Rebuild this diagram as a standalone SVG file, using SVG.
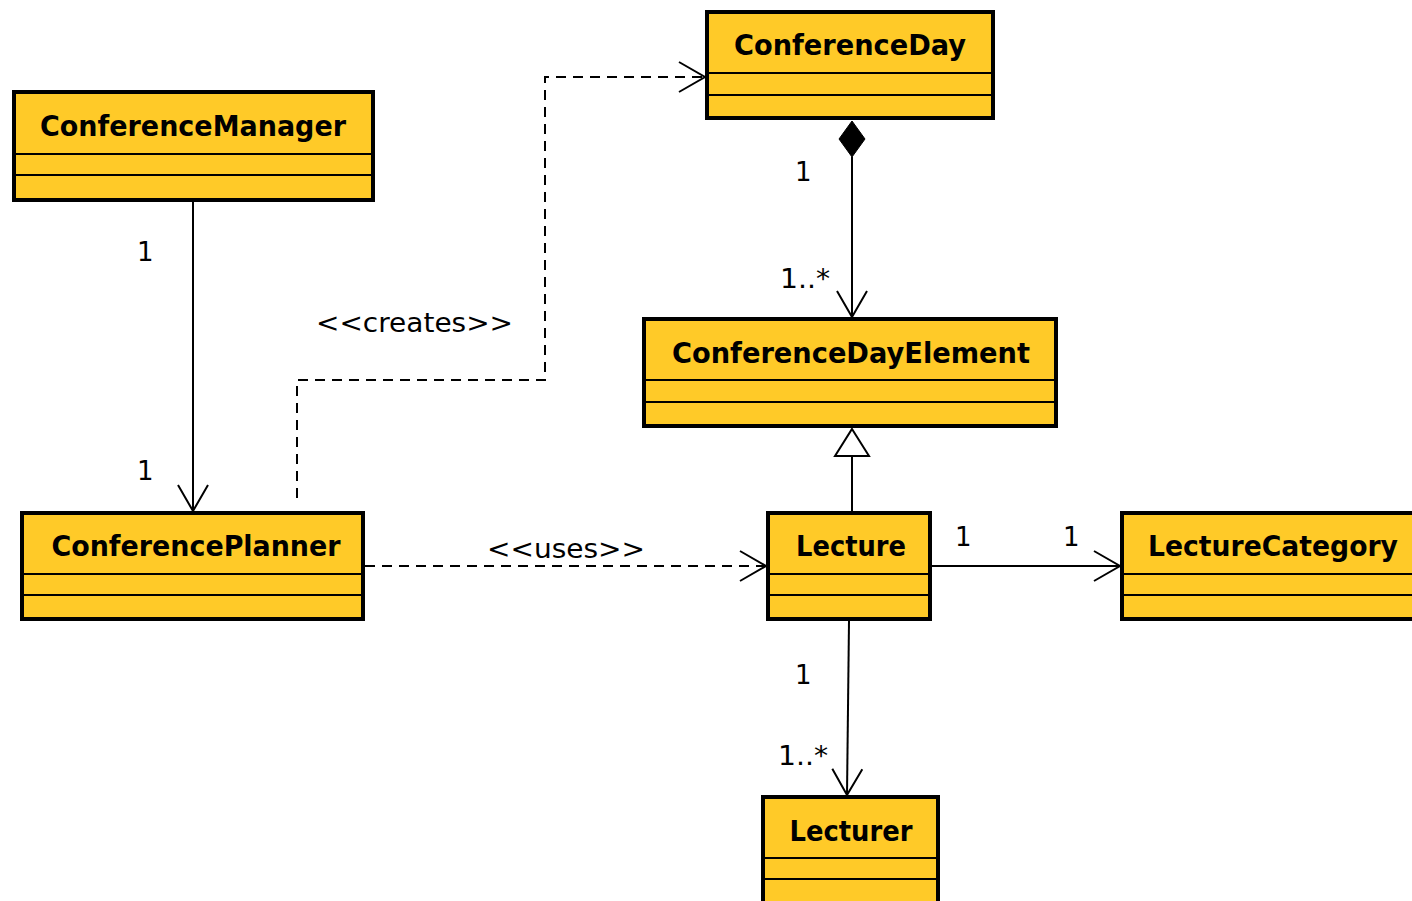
<svg xmlns="http://www.w3.org/2000/svg" width="1412" height="901" viewBox="0 0 1412 901">
<style>
.box{fill:#FFCA28;stroke:#000;stroke-width:4}
.div{stroke:#000;stroke-width:2}
.name{font-family:"DejaVu Sans","Liberation Sans",sans-serif;font-weight:bold;font-size:28px;fill:#000;text-anchor:middle}
.lbl{font-family:"DejaVu Sans","Liberation Sans",sans-serif;font-size:26px;fill:#000}
.edge{fill:none;stroke:#000;stroke-width:2}
.dash{stroke-dasharray:10 7}
</style>
<defs>
<marker id="open" markerUnits="userSpaceOnUse" markerWidth="32" markerHeight="34" viewBox="0 0 32 34" refX="29" refY="17" orient="auto">
<path d="M3,2 L29,17 L3,32" fill="none" stroke="#000" stroke-width="2"/>
</marker>
</defs>
<rect width="1412" height="901" fill="#fff"/>
<g id="connectors">
<path class="edge" d="M193,202 V511" marker-end="url(#open)"/>
<path class="edge dash" d="M297,498 V380 H545 V77 H705" marker-end="url(#open)"/>
<path class="edge dash" d="M365,566 H766" marker-end="url(#open)"/>
<path class="edge" d="M852,157 V317" marker-end="url(#open)"/>
<polygon points="852,121 865,139 852,157 839,139" fill="#000" stroke="#000" stroke-width="1"/>
<path class="edge" d="M852,456 V511"/>
<polygon points="852,429 869,456 835,456" fill="#fff" stroke="#000" stroke-width="2"/>
<path class="edge" d="M932,566 H1120" marker-end="url(#open)"/>
<path class="edge" d="M849,621 L847,795" marker-end="url(#open)"/>
<text class="lbl" x="137" y="261">1</text>
<text class="lbl" x="137" y="480">1</text>
<text class="lbl" x="316" y="332" textLength="197" lengthAdjust="spacingAndGlyphs">&lt;&lt;creates&gt;&gt;</text>
<text class="lbl" x="487" y="558" textLength="158" lengthAdjust="spacingAndGlyphs">&lt;&lt;uses&gt;&gt;</text>
<text class="lbl" x="795" y="181">1</text>
<text class="lbl" x="780" y="288" textLength="50" lengthAdjust="spacingAndGlyphs">1..*</text>
<text class="lbl" x="955" y="546">1</text>
<text class="lbl" x="1063" y="546">1</text>
<text class="lbl" x="795" y="684">1</text>
<text class="lbl" x="778" y="765" textLength="50" lengthAdjust="spacingAndGlyphs">1..*</text>
</g>
<g id="ConferenceManager">
<rect class="box" x="14" y="92" width="359" height="108"/>
<line class="div" x1="14" y1="154" x2="373" y2="154"/>
<line class="div" x1="14" y1="175" x2="373" y2="175"/>
<text class="name" x="193" y="136" textLength="306" lengthAdjust="spacingAndGlyphs">ConferenceManager</text>
</g>
<g id="ConferenceDay">
<rect class="box" x="707" y="12" width="286" height="106"/>
<line class="div" x1="707" y1="73" x2="993" y2="73"/>
<line class="div" x1="707" y1="95" x2="993" y2="95"/>
<text class="name" x="850" y="55" textLength="232" lengthAdjust="spacingAndGlyphs">ConferenceDay</text>
</g>
<g id="ConferenceDayElement">
<rect class="box" x="644" y="319" width="412" height="107"/>
<line class="div" x1="644" y1="380" x2="1056" y2="380"/>
<line class="div" x1="644" y1="402" x2="1056" y2="402"/>
<text class="name" x="851" y="363" textLength="358" lengthAdjust="spacingAndGlyphs">ConferenceDayElement</text>
</g>
<g id="ConferencePlanner">
<rect class="box" x="22" y="513" width="341" height="106"/>
<line class="div" x1="22" y1="574" x2="363" y2="574"/>
<line class="div" x1="22" y1="595" x2="363" y2="595"/>
<text class="name" x="196" y="556" textLength="289" lengthAdjust="spacingAndGlyphs">ConferencePlanner</text>
</g>
<g id="Lecture">
<rect class="box" x="768" y="513" width="162" height="106"/>
<line class="div" x1="768" y1="574" x2="930" y2="574"/>
<line class="div" x1="768" y1="595" x2="930" y2="595"/>
<text class="name" x="851" y="556" textLength="110" lengthAdjust="spacingAndGlyphs">Lecture</text>
</g>
<g id="LectureCategory">
<rect class="box" x="1122" y="513" width="300" height="106"/>
<line class="div" x1="1122" y1="574" x2="1422" y2="574"/>
<line class="div" x1="1122" y1="595" x2="1422" y2="595"/>
<text class="name" x="1273" y="556" textLength="250" lengthAdjust="spacingAndGlyphs">LectureCategory</text>
</g>
<g id="Lecturer">
<rect class="box" x="763" y="797" width="175" height="112"/>
<line class="div" x1="763" y1="858" x2="938" y2="858"/>
<line class="div" x1="763" y1="879" x2="938" y2="879"/>
<text class="name" x="851" y="841" textLength="123" lengthAdjust="spacingAndGlyphs">Lecturer</text>
</g>
</svg>
